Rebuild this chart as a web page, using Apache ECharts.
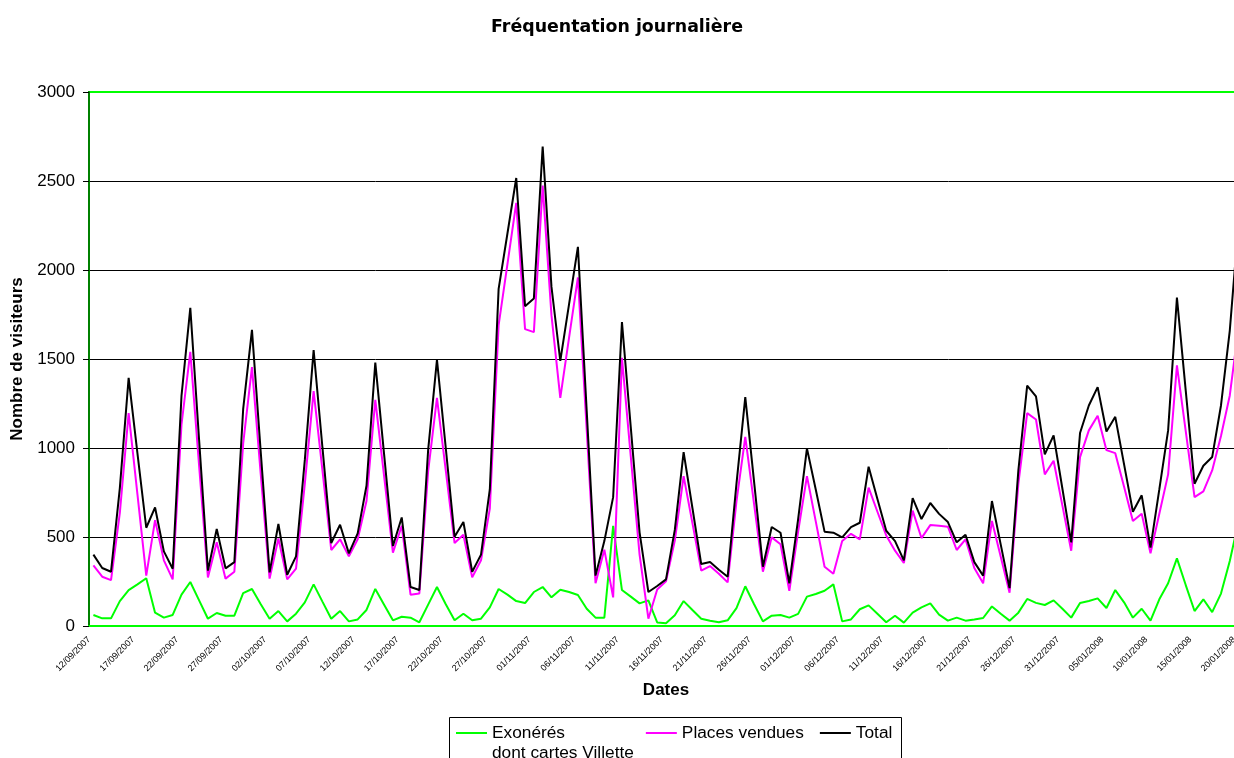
<!DOCTYPE html>
<html>
<head>
<meta charset="utf-8">
<script src="https://cdn.jsdelivr.net/npm/echarts@6/dist/echarts.min.js"></script>
<style>
html,body{margin:0;padding:0;background:#fff;}
#chart{width:1234px;height:758px;}
</style>
</head>
<body>
<div id="chart"></div>
<script>
const dates = [
'12/09/2007','13/09/2007','14/09/2007','15/09/2007','16/09/2007','17/09/2007','18/09/2007','19/09/2007','20/09/2007','21/09/2007',
'22/09/2007','23/09/2007','24/09/2007','25/09/2007','26/09/2007','27/09/2007','28/09/2007','29/09/2007','30/09/2007',
'01/10/2007','02/10/2007','03/10/2007','04/10/2007','05/10/2007','06/10/2007','07/10/2007','08/10/2007','09/10/2007','10/10/2007',
'11/10/2007','12/10/2007','13/10/2007','14/10/2007','15/10/2007','16/10/2007','17/10/2007','18/10/2007','19/10/2007','20/10/2007',
'21/10/2007','22/10/2007','23/10/2007','24/10/2007','25/10/2007','26/10/2007','27/10/2007','28/10/2007','29/10/2007','30/10/2007','31/10/2007',
'01/11/2007','02/11/2007','03/11/2007','04/11/2007','05/11/2007','06/11/2007','07/11/2007','08/11/2007','09/11/2007','10/11/2007',
'11/11/2007','12/11/2007','13/11/2007','14/11/2007','15/11/2007','16/11/2007','17/11/2007','18/11/2007','19/11/2007','20/11/2007',
'21/11/2007','22/11/2007','23/11/2007','24/11/2007','25/11/2007','26/11/2007','27/11/2007','28/11/2007','29/11/2007','30/11/2007',
'01/12/2007','02/12/2007','03/12/2007','04/12/2007','05/12/2007','06/12/2007','07/12/2007','08/12/2007','09/12/2007','10/12/2007',
'11/12/2007','12/12/2007','13/12/2007','14/12/2007','15/12/2007','16/12/2007','17/12/2007','18/12/2007','19/12/2007','20/12/2007',
'21/12/2007','22/12/2007','23/12/2007','24/12/2007','25/12/2007','26/12/2007','27/12/2007','28/12/2007','29/12/2007','30/12/2007','31/12/2007',
'01/01/2008','02/01/2008','03/01/2008','04/01/2008','05/01/2008','06/01/2008','07/01/2008','08/01/2008','09/01/2008','10/01/2008',
'11/01/2008','12/01/2008','13/01/2008','14/01/2008','15/01/2008','16/01/2008','17/01/2008','18/01/2008','19/01/2008','20/01/2008'
];

const exoneres = [
62,43,43,140,202,234,268,75,47,62,
176,247,144,41,73,58,58,185,208,122,
41,84,26,69,133,234,137,41,84,26,
37,90,208,120,32,52,47,21,120,219,
122,32,69,32,41,105,208,176,140,129,
191,219,161,204,191,174,97,47,47,563,
202,165,127,144,20,15,60,140,90,41,
30,21,32,100,223,122,26,58,62,47,
68,165,180,198,234,26,37,94,116,69,
21,58,19,75,105,127,64,30,47,30,
37,45,110,69,30,75,152,130,118,144,
97,47,129,140,155,101,202,133,47,97,
30,150,240,380,230,84,150,78,182,365,
590
];

const placesVendues = [
341,277,258,635,1196,740,283,595,369,262,
1132,1540,900,273,470,266,305,1024,1454,850,
266,492,262,322,800,1320,874,427,487,391,
487,702,1271,842,412,563,176,183,870,1282,
874,466,513,273,369,659,1690,2033,2377,1668,
1651,2474,1745,1282,1621,1958,1100,240,429,161,
1507,953,401,41,205,251,480,842,578,311,
337,294,245,700,1063,685,305,498,459,198,
530,842,588,333,294,477,518,487,777,642,
509,423,354,648,494,567,563,558,427,487,
326,240,590,389,187,800,1196,1160,852,928,
676,423,949,1099,1181,988,971,782,590,631,
408,631,852,1464,1095,724,756,874,1067,1295,
1680
];

const total = [
401,326,305,775,1394,970,552,666,419,322,
1293,1787,1045,311,545,324,359,1218,1664,975,
301,573,288,391,933,1550,1003,466,569,408,
520,788,1480,964,449,610,219,202,990,1497,
1000,502,584,305,401,767,1894,2205,2517,1797,
1840,2693,1905,1490,1810,2130,1207,283,477,724,
1707,1117,526,191,225,262,540,977,663,348,
359,316,277,800,1286,810,333,556,524,240,
600,998,767,530,524,498,555,580,895,713,
535,477,369,719,601,691,630,584,470,513,
359,283,702,457,213,874,1351,1290,964,1071,
771,470,1084,1239,1342,1093,1175,908,642,734,
440,767,1099,1845,1322,799,900,949,1239,1660,
2270
];

const yTicks = [0, 500, 1000, 1500, 2000, 2500, 3000];
const seriesNames = ['Exonérés dont cartes Villette', 'Places vendues', 'Total'];

const FONT = 'Liberation Sans, Arial, sans-serif';
const chart = echarts.init(document.getElementById('chart'), null, {renderer: 'canvas'});

chart.setOption({
  animation: false,
  backgroundColor: '#ffffff',
  title: {
    text: 'Fréquentation journalière',
    left: 'center',
    top: 14,
    textStyle: {fontFamily: 'DejaVu Sans', fontWeight: 'bold', fontSize: 17.4, color: '#000'}
  },
  graphic: [{
    type: 'rect', z: 0,
    shape: {x: 449.5, y: 717.5, width: 452, height: 60},
    style: {fill: 'none', stroke: '#000', lineWidth: 1}
  }],
  legend: {
    data: [
      {name: seriesNames[0]},
      {name: seriesNames[1], textStyle: {width: 126}},
      {name: seriesNames[2]}
    ],
    left: 456,
    top: 703,
    padding: 0,
    icon: 'rect',
    itemWidth: 31,
    itemHeight: 2,
    itemGap: 12,
    textStyle: {fontFamily: FONT, fontSize: 17.3, color: '#000', lineHeight: 20},
    formatter: function (name) {
      return name === seriesNames[0] ? '\nExonérés\ndont cartes Villette' : name;
    }
  },
  grid: {
    left: 89, top: 92, right: -9, bottom: 132,
    outerBoundsMode: 'none',
    containLabel: false,
    show: true, borderColor: '#00ff00', borderWidth: 2, backgroundColor: 'transparent'
  },
  xAxis: {
    type: 'category',
    data: dates,
    boundaryGap: true,
    name: 'Dates',
    nameLocation: 'middle',
    nameGap: 56,
    nameTextStyle: {fontFamily: FONT, fontWeight: 'bold', fontSize: 17, color: '#000'},
    axisLine: {lineStyle: {color: '#00ff00', width: 2}},
    axisTick: {interval: 4, length: 5, lineStyle: {color: '#000'}},
    axisLabel: {interval: 4, rotate: 45, fontFamily: FONT, fontSize: 9, color: '#000', margin: 8, padding: [0, 6, 0, 0]},
    splitLine: {show: false}
  },
  yAxis: {
    type: 'value',
    min: yTicks[0], max: yTicks[yTicks.length - 1], interval: 500,
    name: 'Nombre de visiteurs',
    nameLocation: 'middle',
    nameGap: 60,
    nameTextStyle: {fontFamily: FONT, fontWeight: 'bold', fontSize: 17, color: '#000'},
    axisLine: {show: true, lineStyle: {color: '#008000', width: 2}},
    axisTick: {show: true, length: 6, lineStyle: {color: '#000'}},
    axisLabel: {fontFamily: FONT, fontSize: 17, color: '#000', margin: 14, formatter: function (v) { return String(v); }},
    splitLine: {show: true, showMinLine: false, showMaxLine: false, lineStyle: {color: '#000', width: 1}}
  },
  series: [
    {name: seriesNames[0], type: 'line', data: exoneres, symbol: 'none', color: '#00ff00', lineStyle: {color: '#00ff00', width: 2}},
    {name: seriesNames[1], type: 'line', data: placesVendues, symbol: 'none', color: '#ff00ff', lineStyle: {color: '#ff00ff', width: 2}},
    {name: seriesNames[2], type: 'line', data: total, symbol: 'none', color: '#000000', lineStyle: {color: '#000000', width: 2}}
  ]
});
</script>
</body>
</html>
